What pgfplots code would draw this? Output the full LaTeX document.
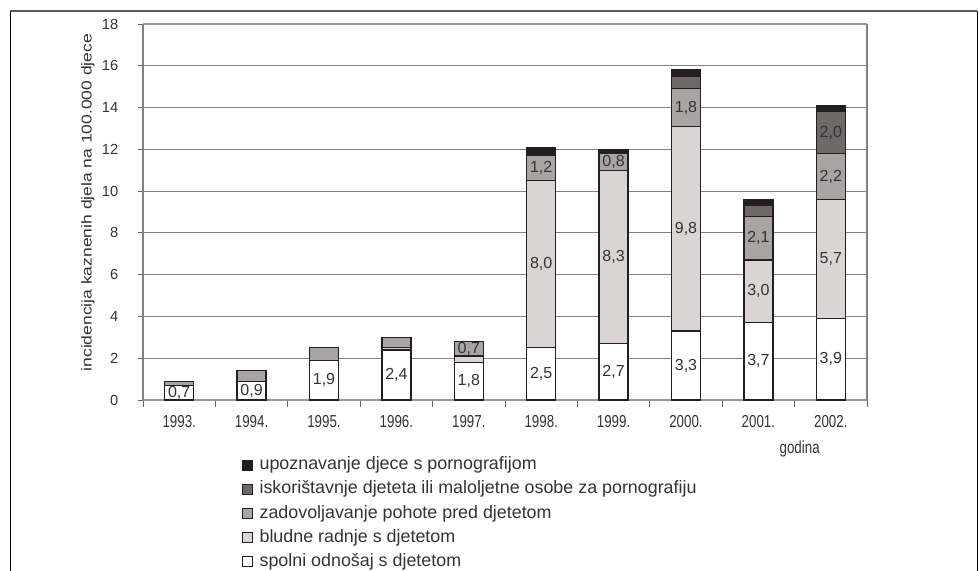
\documentclass[border=0pt]{standalone}
\usepackage{fontspec}
\setmainfont{Liberation Sans}
\usepackage{graphicx}
\usepackage{pgfplots}
\pgfplotsset{compat=1.18}

\definecolor{cupo}{HTML}{231F20}
\definecolor{cisk}{HTML}{6E6868}
\definecolor{czad}{HTML}{A8A4A4}
\definecolor{cblu}{HTML}{D9D5D5}
\definecolor{cedge}{HTML}{231F20}
\definecolor{ctxt}{HTML}{333333}

% the scan is stretched vertically
\newcommand{\vs}[1]{\scalebox{1}[1.3]{#1}}

\pgfplotsset{
  base/.style={
    scale only axis, width=543pt, height=282pt,
    xmin=-0.5, xmax=9.5, ymin=0, ymax=18,
  },
}

\begin{document}
\begin{tikzpicture}
\useasboundingbox (-107.25pt,-128.25pt) rectangle (627pt,300pt);
\draw[line width=0.6pt] (-99.75pt,-128.25pt) -- (-99.75pt,291.75pt);
\draw[line width=1.5pt, draw=black!65] (-99.75pt,291.75pt) -- (625.5pt,291.75pt);
\draw[line width=0.6pt] (625.5pt,-128.25pt) -- (625.5pt,291.75pt);

\begin{axis}[base,
  ybar stacked, bar width=21.75pt,
  ytick={0,2,...,18},
  xtick={0,...,9},
  xticklabels={\vs{1993.},\vs{1994.},\vs{1995.},\vs{1996.},\vs{1997.},\vs{1998.},\vs{1999.},\vs{2000.},\vs{2001.},\vs{2002.}},
  minor xtick={-0.5,0.5,...,9.5},
  major x tick style={draw=none},
  tick align=outside, tick pos=left,
  major tick length=4pt, minor tick length=5pt,
  tick style={draw=black!60, line width=0.6pt},
  /pgf/number format/assume math mode=true,
  yticklabel style={font=\fontsize{11}{12}\selectfont, text=ctxt, xshift=-11pt},
  xticklabel style={font=\fontsize{10}{12}\selectfont, text=ctxt, yshift=-4pt},
  ymajorgrids, grid style={draw=black!50, line width=0.6pt},
  separate axis lines,
  x axis line style={draw=black!40, line width=1.2pt},
  y axis line style={draw=black!50, line width=1.2pt},
  xlabel={\vs{godina}},
  xlabel style={at={(axis description cs:0.907,-0.13)}, anchor=center, font=\fontsize{10}{12}\selectfont, text=ctxt},
  ylabel={\scalebox{1.22}[1]{incidencija kaznenih djela na 100.000 djece}},
  ylabel style={at={(axis description cs:-0.076,0.525)}, anchor=center, font=\fontsize{10.75}{12}\selectfont, text=ctxt},
  legend style={at={(axis description cs:0.136,-0.143)}, anchor=north west,
    draw=none, fill=none, font=\fontsize{13.4}{15}\selectfont, text=ctxt,
    row sep=2.9pt, inner sep=0pt},
  legend cell align=left,
  reverse legend,
  every axis plot post/.append style={
    legend image code/.code={\draw[##1, draw=cedge, line width=0.8pt] (0pt,-4.5pt) rectangle (7.5pt,3pt);
      \path[draw=none, fill=none] (0pt,-0.05pt) rectangle (11pt,0.05pt);}},
]
\addplot[fill=white, draw=cedge, line width=1pt] coordinates {
  (0,0.7) (1,0.9) (2,1.9) (3,2.4) (4,1.8) (5,2.5) (6,2.7) (7,3.3) (8,3.7) (9,3.9)};
\addlegendentry{spolni odnošaj s djetetom}
\addplot[fill=cblu, draw=cedge, line width=1pt] coordinates {
  (0,0) (1,0) (2,0) (3,0.1) (4,0.3) (5,8.0) (6,8.3) (7,9.8) (8,3.0) (9,5.7)};
\addlegendentry{bludne radnje s djetetom}
\addplot[fill=czad, draw=cedge, line width=1pt] coordinates {
  (0,0.2) (1,0.5) (2,0.6) (3,0.5) (4,0.7) (5,1.2) (6,0.8) (7,1.8) (8,2.1) (9,2.2)};
\addlegendentry{zadovoljavanje pohote pred djetetom}
\addplot[fill=cisk, draw=cedge, line width=1pt] coordinates {
  (0,0) (1,0) (2,0) (3,0) (4,0) (5,0) (6,0) (7,0.6) (8,0.5) (9,2.0)};
\addlegendentry{iskorištavnje djeteta ili maloljetne osobe za pornografiju}
\addplot[fill=cupo, draw=cedge, line width=1pt] coordinates {
  (0,0) (1,0) (2,0) (3,0) (4,0) (5,0.4) (6,0.2) (7,0.3) (8,0.3) (9,0.3)};
\addlegendentry{upoznavanje djece s pornografijom}
\end{axis}

\begin{axis}[base, hide axis,
  nodes near coords, point meta=explicit symbolic,
  every node near coord/.append style={anchor=center, font=\fontsize{12}{14}\selectfont, text=ctxt},
]
\addplot[draw=none, mark=none] coordinates {
  (0,0.35) [{0,7}] (1,0.45) [{0,9}] (2,0.95) [{1,9}] (3,1.2) [{2,4}]
  (4,0.9) [{1,8}] (4,2.45) [{0,7}]
  (5,1.25) [{2,5}] (5,6.5) [{8,0}] (5,11.1) [{1,2}]
  (6,1.35) [{2,7}] (6,6.85) [{8,3}] (6,11.4) [{0,8}]
  (7,1.65) [{3,3}] (7,8.2) [{9,8}] (7,14.0) [{1,8}]
  (8,1.85) [{3,7}] (8,5.2) [{3,0}] (8,7.75) [{2,1}]
  (9,1.95) [{3,9}] (9,6.75) [{5,7}] (9,10.7) [{2,2}] (9,12.8) [{2,0}]
};
\end{axis}
\end{tikzpicture}
\end{document}
